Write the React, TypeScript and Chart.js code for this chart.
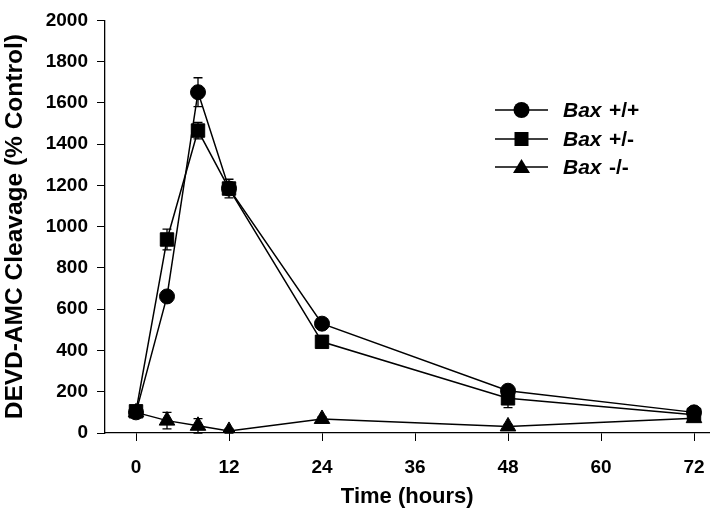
import React, { useEffect, useRef } from "react";
import { Chart, registerables } from "chart.js";

Chart.register(...registerables);

// ---- data ----
const hours = [0, 4, 8, 12, 24, 48, 72];
const xTickValues = [0, 12, 24, 36, 48, 60, 72];

const baxWT = [100, 662, 1652, 1185, 530, 205, 100];
const baxWTErr = [10, 20, 70, 45, 20, 20, 15];

const baxHet = [105, 938, 1466, 1185, 442, 168, 88];
const baxHetErr = [10, 50, 40, 30, 15, 45, 10];

const baxKO = [100, 60, 35, 10, 68, 32, 72];
const baxKOErr = [10, 40, 35, 10, 10, 10, 10];

const seriesLabels = ["Bax +/+", "Bax +/-", "Bax -/-"];
const seriesGenotypes = ["+/+", "+/-", "-/-"];

const FONT = "'Liberation Sans', Arial, Helvetica, sans-serif";

const errorsBySeries = [baxWTErr, baxHetErr, baxKOErr];

const errorBarPlugin = {
  id: "errorBars",
  beforeDatasetsDraw(chart: any) {
    const ctx = chart.ctx;
    const xs = chart.scales.x;
    const ys = chart.scales.y;
    ctx.save();
    ctx.strokeStyle = "#000";
    ctx.lineWidth = 1.3;
    chart.data.datasets.forEach((ds: any, di: number) => {
      const errs = errorsBySeries[di];
      ds.data.forEach((pt: any, i: number) => {
        const e = errs[i];
        const px = xs.getPixelForValue(pt.x);
        const top = ys.getPixelForValue(pt.y + e);
        const bot = ys.getPixelForValue(Math.max(0, pt.y - e));
        ctx.beginPath();
        ctx.moveTo(px, top);
        ctx.lineTo(px, bot);
        ctx.moveTo(px - 4.5, top);
        ctx.lineTo(px + 4.5, top);
        ctx.moveTo(px - 4.5, bot);
        ctx.lineTo(px + 4.5, bot);
        ctx.stroke();
      });
    });
    ctx.restore();
  },
};

const legendPlugin = {
  id: "customLegend",
  afterDraw(chart: any) {
    const ctx = chart.ctx;
    const rowsY = [110, 139, 167];
    const lineX0 = 495;
    const lineX1 = 548;
    const markX = 521.5;
    ctx.save();
    chart.data.datasets.forEach((ds: any, i: number) => {
      const y = rowsY[i];
      ctx.strokeStyle = "#000";
      ctx.lineWidth = 1.5;
      ctx.beginPath();
      ctx.moveTo(lineX0, y);
      ctx.lineTo(lineX1, y);
      ctx.stroke();
      ctx.fillStyle = "#000";
      ctx.beginPath();
      if (ds.pointStyle === "circle") {
        ctx.arc(markX, y, 8, 0, Math.PI * 2);
      } else if (ds.pointStyle === "rect") {
        ctx.rect(markX - 7, y - 7, 14, 14);
      } else {
        ctx.moveTo(markX, y - 8);
        ctx.lineTo(markX + 8.5, y + 6);
        ctx.lineTo(markX - 8.5, y + 6);
        ctx.closePath();
      }
      ctx.fill();
      ctx.textBaseline = "middle";
      ctx.textAlign = "left";
      ctx.font = `italic bold 21px ${FONT}`;
      ctx.fillText("Bax", 563, y + 1);
      ctx.font = `bold 21px ${FONT}`;
      ctx.fillText(seriesGenotypes[i], 609, y + 1);
    });
    ctx.restore();
  },
};

function makeDataset(label: string, values: number[], style: string, radius: number, order: number) {
  return {
    label,
    order,
    data: hours.map((h, i) => ({ x: h, y: values[i] })),
    borderColor: "#000",
    borderWidth: 1.5,
    backgroundColor: "#000",
    pointStyle: style,
    pointRadius: radius,
    pointBackgroundColor: "#000",
    pointBorderColor: "#000",
    pointBorderWidth: 1,
    tension: 0,
    showLine: true,
    fill: false,
  };
}

export default function App() {
  const canvasRef = useRef<HTMLCanvasElement | null>(null);

  useEffect(() => {
    if (!canvasRef.current) return;
    const chart = new Chart(canvasRef.current, {
      type: "line",
      data: {
        datasets: [
          makeDataset(seriesLabels[0], baxWT, "circle", 7.5, 0),
          makeDataset(seriesLabels[1], baxHet, "rect", 9.5, 1),
          makeDataset(seriesLabels[2], baxKO, "triangle", 9, 2),
        ],
      },
      options: {
        responsive: false,
        animation: false,
        devicePixelRatio: 1,
        layout: { padding: { top: 11, right: 7, left: 0, bottom: 0 } },
        plugins: {
          legend: { display: false },
          tooltip: { enabled: false },
        },
        scales: {
          x: {
            type: "linear",
            min: -4,
            max: 74,
            afterBuildTicks: (scale: any) => {
              scale.ticks = xTickValues.map((v) => ({ value: v }));
            },
            afterFit: (scale: any) => {
              scale.height = 84;
            },
            grid: {
              display: true,
              drawOnChartArea: false,
              drawTicks: true,
              tickLength: 8,
              color: "#000",
              lineWidth: 1,
            },
            border: { display: true, color: "#000", width: 1.3 },
            ticks: {
              color: "#000",
              font: { family: FONT, size: 19, weight: "bold" },
              padding: 15,
              maxRotation: 0,
              callback: (v: any) => String(v),
            },
            title: {
              display: true,
              text: "Time (hours)",
              color: "#000",
              font: { family: FONT, size: 22, weight: "bold" },
              padding: { top: 0, bottom: 7 },
            },
          },
          y: {
            type: "linear",
            min: 0,
            max: 2000,
            afterFit: (scale: any) => {
              scale.width = 105;
            },
            grid: {
              display: true,
              drawOnChartArea: false,
              drawTicks: true,
              tickLength: 8,
              color: "#000",
              lineWidth: 1,
            },
            border: { display: true, color: "#000", width: 1.3 },
            ticks: {
              stepSize: 200,
              color: "#000",
              font: { family: FONT, size: 19, weight: "bold" },
              padding: 9,
              callback: (v: any) => String(v),
            },
            title: {
              display: true,
              text: "DEVD-AMC Cleavage (% Control)",
              color: "#000",
              font: { family: FONT, size: 24.5, weight: "bold" },
              padding: { top: 1, bottom: 0 },
            },
          },
        },
      } as any,
      plugins: [errorBarPlugin, legendPlugin],
    });
    return () => chart.destroy();
  }, []);

  return (
    <div style={{ position: "fixed", left: 0, top: 0, width: 720, height: 517, background: "#fff" }}>
      <canvas ref={canvasRef} width={720} height={517} style={{ display: "block" }} />
    </div>
  );
}
